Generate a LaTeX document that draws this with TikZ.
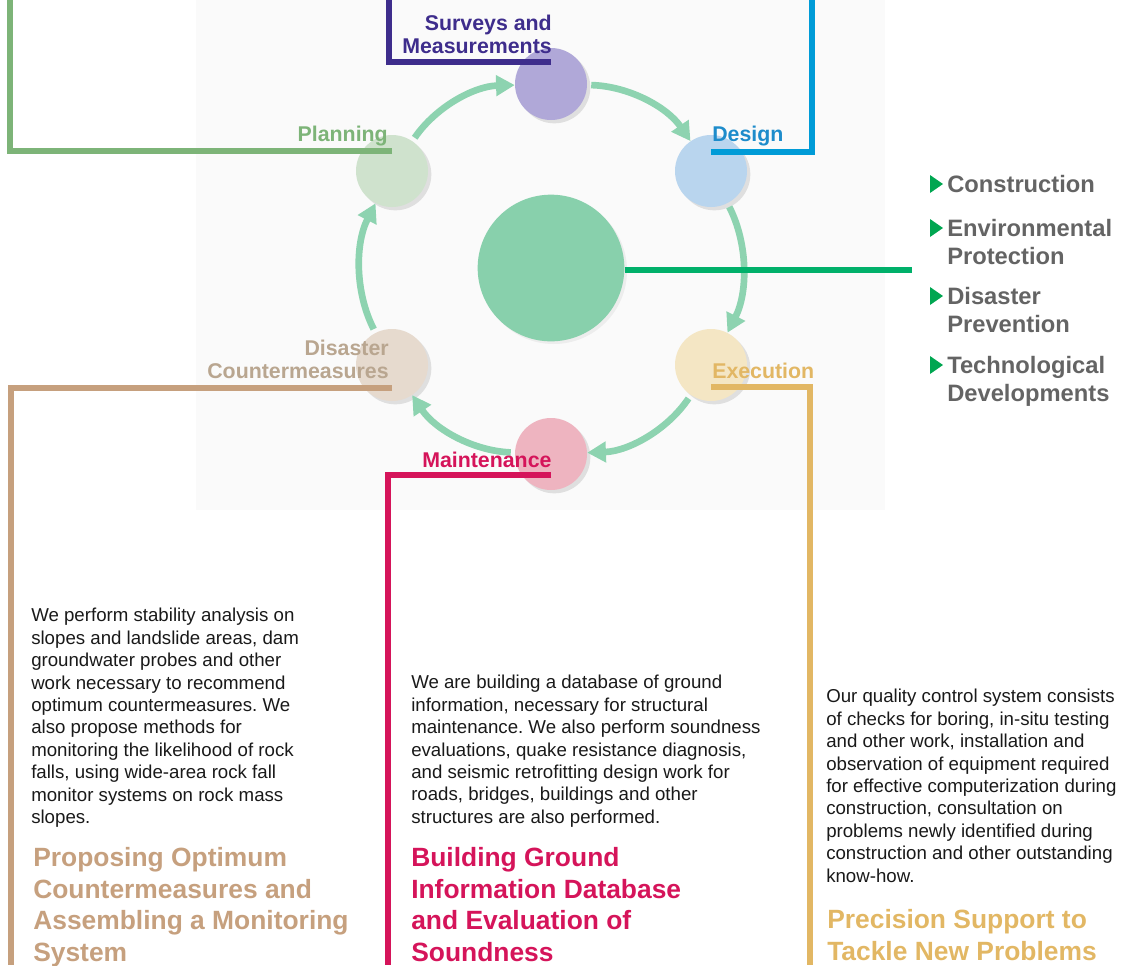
\documentclass[tikz,border=0pt]{standalone}
\usepackage{fontspec}
\setmainfont{Liberation Sans}
\usepackage{tikz}
\usetikzlibrary{arrows.meta,shadows,positioning}
\usepackage{xcolor}
\definecolor{ringgreen}{RGB}{141,211,176}
\definecolor{hubfill}{RGB}{136,208,172}
\definecolor{hubline}{RGB}{0,176,106}
\definecolor{bulletgreen}{RGB}{0,166,81}
\definecolor{fieldgray}{RGB}{100,100,100}
\definecolor{bodytext}{RGB}{25,25,25}
\definecolor{panel}{RGB}{250,250,250}
\definecolor{planline}{RGB}{125,180,120}
\definecolor{planfill}{RGB}{207,226,205}
\definecolor{survline}{RGB}{62,45,140}
\definecolor{survfill}{RGB}{176,168,216}
\definecolor{designline}{RGB}{0,155,215}
\definecolor{designtext}{RGB}{30,140,203}
\definecolor{designfill}{RGB}{185,213,238}
\definecolor{execline}{RGB}{226,183,100}
\definecolor{execfill}{RGB}{244,230,196}
\definecolor{maintline}{RGB}{213,20,90}
\definecolor{maintfill}{RGB}{238,180,192}
\definecolor{disasline}{RGB}{198,160,126}
\definecolor{disastext}{RGB}{185,166,144}
\definecolor{disasfill}{RGB}{230,218,206}
\frenchspacing

\begin{document}
\begin{tikzpicture}[x=0.75pt,y=-0.75pt,
  stage/.style={circle,minimum size=54pt,inner sep=0pt,
    drop shadow={shadow xshift=2.5pt,shadow yshift=-2.5pt,opacity=0.22}},
  flow/.style={line width=5pt,ringgreen,-{Triangle[length=14pt,width=15pt]},
    shorten <=3pt},
  bracket/.style={line width=3.8pt},
  steplabel/.style={font=\fontsize{16}{17.25}\selectfont\bfseries,inner sep=0pt},
  blurb/.style={font=\fontsize{14}{16.8}\selectfont,align=left,
    anchor=north west,inner sep=0pt,text=bodytext},
  headline/.style={font=\fontsize{19.8}{23.8}\selectfont\bfseries,align=left,
    anchor=north west,inner sep=0pt},
  field/.style={font=\fontsize{17.8}{21}\selectfont\bfseries,align=left,
    anchor=north west,inner sep=0pt,text=fieldgray}]
\useasboundingbox (0,0) rectangle (1122,965);

% Faint panel behind the cycle
\fill[panel] (196,0) rectangle (885,510);

% Cycle stages
\node[stage,fill=survfill]   (surv)   at (551,84)  {};
\node[stage,fill=designfill] (design) at (711,171) {};
\node[stage,fill=execfill]   (exec)   at (711,365) {};
\node[stage,fill=maintfill]  (maint)  at (551,454) {};
\node[stage,fill=disasfill]  (disas)  at (392,365) {};
\node[stage,fill=planfill]   (plan)   at (392,171) {};
\node[circle,minimum size=110pt,inner sep=0pt,fill=hubfill,
  drop shadow={shadow xshift=2pt,shadow yshift=-2pt,opacity=0.1}] (hub) at (551,268) {};

% Arrows round the ring
\draw[flow] (plan)   to[bend left=27,looseness=0.9] (surv);
\draw[flow] (surv)   to[bend left=27,looseness=0.9] (design);
\draw[flow] (design) to[bend left=27,looseness=0.9] (exec);
\draw[flow] (exec)   to[bend left=27,looseness=0.9] (maint);
\draw[flow] (maint)  to[bend left=27,looseness=0.9] (disas);
\draw[flow] (disas)  to[bend left=27,looseness=0.9] (plan);

% Brackets from the stages
\draw[bracket,planline]   (plan.center |- 0,151) -- (10,151) -- (10,0);
\draw[bracket,survline]   (surv.center |- 0,62) -- (389,62) -- (389,0);
\draw[bracket,designline] (design.center |- 0,152) -- (812,152) -- (812,0);
\draw[bracket,disasline]  (disas.center |- 0,388) -- (11,388) -- (11,965);
\draw[bracket,maintline]  (maint.center |- 0,475) -- (388,475) -- (388,965);
\draw[bracket,execline]   (exec.center |- 0,387) -- (810,387) -- (810,965);
\coordinate (listedge) at (912,270);
\draw[bracket,hubline] (hub.east |- 0,270) -- (listedge);

% Stage labels
\node[steplabel,text=planline,anchor=base east] (planlbl) at (388,141) {Planning};
\node[steplabel,text=survline,align=right,anchor=base east] (survlbl) at (552,53) {Surveys and\\Measurements};
\node[steplabel,text=designtext,anchor=base west] (designlbl) at (712,141) {Design};
\node[steplabel,text=disastext,align=right,anchor=base east] (disaslbl) at (389,378) {Disaster\\Countermeasures};
\node[steplabel,text=execline,anchor=base west] (execlbl) at (712,378) {Execution};
\node[steplabel,text=maintline,anchor=base west] (maintlbl) at (422,467) {Maintenance};

% Fields list
\foreach \ty/\txt in {175/Construction,219/{Environmental\\Protection},
    287/{Disaster\\Prevention},356/{Technological\\Developments}} {
  \fill[bulletgreen] (930,\ty) -- ++(13,9) -- ++(-13,9) -- cycle;
  \node[field] (field\ty) at (947,\ty) {\txt};
}

% Left column
\node[blurb] (disastxt) at (31,608) {We perform stability analysis on\\
slopes and landslide areas, dam\\
groundwater probes and other\\
work necessary to recommend\\
optimum countermeasures. We\\
also propose methods for\\
monitoring the likelihood of rock\\
falls, using wide-area rock fall\\
monitor systems on rock mass\\
slopes.};
\node[headline,text=disasline] (disashead) at (33,847) {Proposing Optimum\\
Countermeasures and\\
Assembling a Monitoring\\
System};

% Middle column
\node[blurb] (mainttxt) at (411,675) {We are building a database of ground\\
information, necessary for structural\\
maintenance. We also perform soundness\\
evaluations, quake resistance diagnosis,\\
and seismic retrofitting design work for\\
roads, bridges, buildings and other\\
structures are also performed.};
\node[headline,text=maintline] (mainthead) at (411,847) {Building Ground\\
Information Database\\
and Evaluation of\\
Soundness};

% Right column
\node[blurb] (exectxt) at (826,689) {Our quality control system consists\\
of checks for boring, in-situ testing\\
and other work, installation and\\
observation of equipment required\\
for effective computerization during\\
construction, consultation on\\
problems newly identified during\\
construction and other outstanding\\
know-how.};
\node[headline,text=execline] (exechead) at (827,909) {Precision Support to\\
Tackle New Problems};

\end{tikzpicture}
\end{document}
